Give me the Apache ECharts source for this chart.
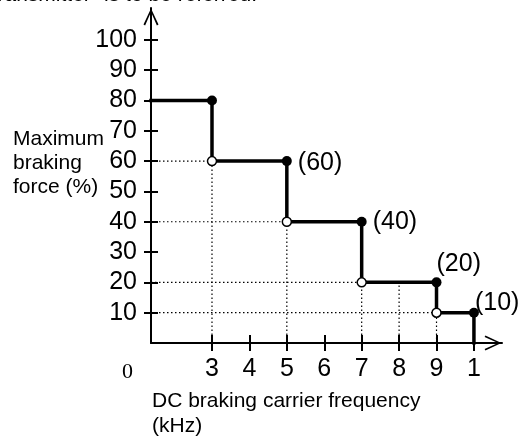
<!DOCTYPE html>
<html>
<head>
<meta charset="utf-8">
<script src="https://cdn.jsdelivr.net/npm/echarts@6/dist/echarts.min.js"></script>
<style>
  html, body { margin: 0; padding: 0; background: #fff; }
  #chart { width: 523px; height: 438px; }
</style>
</head>
<body>
<div id="chart"></div>
<script>
  // step corners: frequency (kHz) and max braking force (%)
  var freqSteps = [3, 5, 7, 9, 10];
  var forceLevels = [80, 60, 40, 20, 10];
  var peakLabels = ['', '(60)', '(40)', '(20)', '(10)'];

  // dotted guides
  var guideHLevels = [60, 40, 20, 10];
  var guideHEnds = [3, 5, 7, 9];
  var guideVPos = [3, 5, 7, 8, 9];
  var guideVTops = [60, 40, 20, 20, 10];

  var yTicks = [10, 20, 30, 40, 50, 60, 70, 80, 90, 100];
  var xTicks = [3, 4, 5, 6, 7, 8, 9, 10];
  var xTickLabels = ['3', '4', '5', '6', '7', '8', '9', '1'];

  var X_MIN = 1.37, X_MAX = 10.75, Y_MIN = 0, Y_MAX = 110.5;
  var FONT = 'Liberation Sans, Arial, sans-serif';
  var ARROW = 'path://M0,0 L7.5,16 L5.9,16.8 L0,3.4 L-5.9,16.8 L-7.5,16 Z';

  var stepLine = [[X_MIN, forceLevels[0]]];
  var filled = [];
  var hollow = [];
  for (var i = 0; i < freqSteps.length; i++) {
    var next = i + 1 < forceLevels.length ? forceLevels[i + 1] : 0;
    stepLine.push([freqSteps[i], forceLevels[i]]);
    stepLine.push([freqSteps[i], next]);
    filled.push({ value: [freqSteps[i], forceLevels[i]], name: peakLabels[i] });
    if (i + 1 < forceLevels.length) hollow.push([freqSteps[i], next]);
  }

  // label placement for each filled dot
  var labelOffsets = [[0, 0], [0, 2], [0, 0], [-11, -18], [-10, -10]];
  filled.forEach(function (d, k) {
    d.label = { show: !!d.name, offset: labelOffsets[k] };
  });

  var series = [];
  var dotted = { color: '#000', width: 1.2, type: [1.5, 2.5] };
  guideHLevels.forEach(function (lv, k) {
    series.push({
      type: 'line', symbol: 'none', silent: true, z: 1,
      lineStyle: dotted,
      data: [[X_MIN, lv], [guideHEnds[k], lv]]
    });
  });
  guideVPos.forEach(function (x, k) {
    series.push({
      type: 'line', symbol: 'none', silent: true, z: 1,
      lineStyle: dotted,
      data: [[x, 0], [x, guideVTops[k]]]
    });
  });
  series.push({
    type: 'line', symbol: 'none', z: 3,
    lineStyle: { color: '#000', width: 3.5, cap: 'square', join: 'miter' },
    data: stepLine
  });
  series.push({
    type: 'scatter', symbol: 'circle', symbolSize: 10, z: 4,
    itemStyle: { color: '#000', opacity: 1 },
    label: {
      position: 'right', distance: 6, color: '#000',
      fontFamily: FONT, fontSize: 25,
      formatter: function (p) { return p.name; }
    },
    data: filled
  });
  series.push({
    type: 'scatter', symbol: 'circle', symbolSize: 9, z: 5,
    itemStyle: { color: '#fff', borderColor: '#000', borderWidth: 1.5, opacity: 1 },
    data: hollow
  });

  var chart = echarts.init(document.getElementById('chart'), null, { renderer: 'canvas' });
  chart.setOption({
    animation: false,
    backgroundColor: '#fff',
    grid: { left: 151, right: 21, top: 8, bottom: 95 },
    xAxis: [{
      type: 'value', min: X_MIN, max: X_MAX,
      axisLine: {
        show: true, lineStyle: { color: '#000', width: 2 },
        symbol: ['none', ARROW], symbolSize: [15, 18], symbolOffset: [0, -9]
      },
      axisTick: { show: true, length: 8, lineStyle: { color: '#000', width: 2 }, customValues: xTicks },
      axisLabel: {
        color: '#000', fontFamily: FONT, fontSize: 25, margin: 14,
        customValues: xTicks,
        formatter: function (v) { return xTickLabels[xTicks.indexOf(v)]; }
      },
      splitLine: { show: false }
    }, {
      type: 'value', position: 'bottom', offset: 0, min: X_MIN, max: X_MAX,
      axisLine: { show: false },
      axisTick: { show: true, inside: true, length: 8, lineStyle: { color: '#000', width: 2 }, customValues: xTicks },
      axisLabel: { show: false },
      splitLine: { show: false }
    }],
    yAxis: [{
      type: 'value', min: Y_MIN, max: Y_MAX, interval: 10,
      axisLine: {
        show: true, lineStyle: { color: '#000', width: 2 },
        symbol: ['none', ARROW], symbolSize: [15, 18], symbolOffset: [0, -9]
      },
      axisTick: { show: true, length: 7, lineStyle: { color: '#000', width: 2 }, customValues: yTicks },
      axisLabel: {
        color: '#000', fontFamily: FONT, fontSize: 25, margin: 14,
        customValues: yTicks
      },
      splitLine: { show: false }
    }, {
      type: 'value', position: 'left', offset: 0, min: Y_MIN, max: Y_MAX, interval: 10,
      axisLine: { show: false },
      axisTick: { show: true, inside: true, length: 7, lineStyle: { color: '#000', width: 2 }, customValues: yTicks },
      axisLabel: { show: false },
      splitLine: { show: false }
    }],
    graphic: [
      {
        type: 'text', x: 257, y: 6,
        style: {
          text: 'transmitter" is to be referred.', font: '21px ' + FONT, fill: '#000',
          align: 'right', verticalAlign: 'bottom'
        }
      },
      {
        type: 'text', left: 13, top: 127,
        style: { text: 'Maximum\nbraking\nforce (%)', font: '21px ' + FONT, fill: '#000', lineHeight: 24 }
      },
      {
        type: 'text', left: 122, top: 361,
        style: { text: '0', font: '22px Liberation Serif, Times New Roman, serif', fill: '#000' }
      },
      {
        type: 'text', left: 152, top: 389,
        style: { text: 'DC braking carrier frequency\n(kHz)', font: '21px ' + FONT, fill: '#000', lineHeight: 25 }
      }
    ],
    series: series
  });
</script>
</body>
</html>
